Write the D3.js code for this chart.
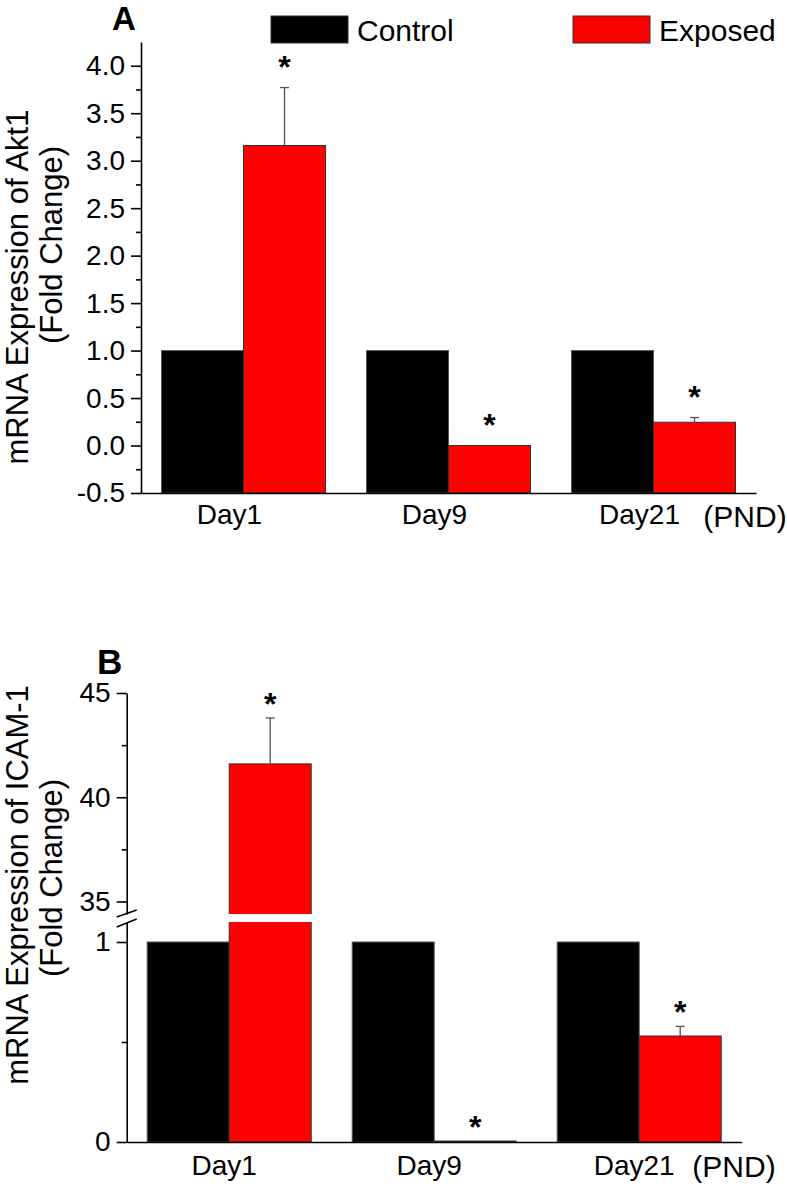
<!DOCTYPE html>
<html><head><meta charset="utf-8">
<script src="https://cdn.jsdelivr.net/npm/d3@7"></script>
<style>
body{margin:0;background:#fff}
svg{display:block}
text{font-family:"Liberation Sans",Arial,Helvetica,sans-serif;fill:#000}
</style>
</head><body>
<svg id="c" width="787" height="1187"></svg>
<script>
// ---------- data ----------
const categories = ["Day1", "Day9", "Day21"];
const seriesNames = ["Control", "Exposed"];
const seriesColors = ["#000000", "#ff0000"];

const akt1Control = [1.0, 1.0, 1.0];
const akt1Exposed = [3.16, 0.0, 0.245];
const akt1ExposedErr = [0.61, 0.0, 0.05];
const akt1Ticks = [-0.5, 0.0, 0.5, 1.0, 1.5, 2.0, 2.5, 3.0, 3.5, 4.0];
const akt1Minor = [-0.25, 0.25, 0.75, 1.25, 1.75, 2.25, 2.75, 3.25, 3.75];

const icamControl = [1.0, 1.0, 1.0];
const icamExposed = [41.6, 0.005, 0.53];
const icamExposedErr = [2.2, 0.0, 0.048];
const icamUpperTicks = [35, 40, 45];
const icamUpperMinor = [37.5, 42.5];
const icamLowerTicks = [0, 1];
const icamLowerMinor = [0.5];

const svg = d3.select("#c");
const FS_TICK = 28, FS_LAB = 28, FS_TITLE = 31;

function styleAxis(g){
  g.selectAll(".domain").attr("stroke","#000").attr("stroke-width",1.6);
  g.selectAll(".tick line").attr("stroke","#000").attr("stroke-width",1.6);
  g.selectAll(".tick text").attr("font-size",FS_TICK).attr("font-family","Liberation Sans, Arial, sans-serif").attr("fill","#000");
}

function drawBars(g, x0, x1, yFn, yBase, ctrl, expo){
  const rows = categories.map((c,i)=>({cat:c, vals:[ctrl[i], expo[i]]}));
  const grp = g.selectAll("g.grp").data(rows).join("g").attr("class","grp")
    .attr("transform", d=>`translate(${x0(d.cat)},0)`);
  grp.selectAll("rect").data(d=>d.vals.map((v,j)=>({v, s:seriesNames[j], j})))
    .join("rect")
    .attr("x", d=>x1(d.s))
    .attr("width", x1.bandwidth())
    .attr("y", d=>yFn(d.v))
    .attr("height", d=>Math.max(0, yBase - yFn(d.v)))
    .attr("fill", d=>seriesColors[d.j])
    .attr("stroke", d=> d.j===0 ? "#555" : "#333")
    .attr("stroke-width", 1);
}

function drawErr(g, x0, x1, yFn, expo, err, starOffset){
  categories.forEach((c,i)=>{
    const cx = x0(c) + x1("Exposed") + x1.bandwidth()/2;
    const yT = yFn(expo[i]);
    const yE = yFn(expo[i] + err[i]);
    if (err[i] > 0){
      g.append("line").attr("x1",cx).attr("x2",cx).attr("y1",yT).attr("y2",yE)
        .attr("stroke","#555").attr("stroke-width",1.3);
      g.append("line").attr("x1",cx-4.5).attr("x2",cx+4.5).attr("y1",yE).attr("y2",yE)
        .attr("stroke","#555").attr("stroke-width",1.3);
    }
    g.append("text").attr("x",cx).attr("y", yE - starOffset + 18)
      .attr("text-anchor","middle").attr("font-size",32).attr("font-weight","bold").text("*");
  });
}

function yTitle(g, cy1, cy2, line1){
  g.append("text").attr("transform",`translate(28,${cy1}) rotate(-90)`)
    .attr("text-anchor","middle").attr("font-size",FS_TITLE).text(line1);
  g.append("text").attr("transform",`translate(62,${cy2}) rotate(-90)`)
    .attr("text-anchor","middle").attr("font-size",FS_TITLE).text("(Fold Change)");
}

// ---------- Panel A ----------
{
  const axisX = 141, right = 756;
  const y = d3.scaleLinear().domain([-0.5, 4.25]).range([493, 42]);
  const x0 = d3.scaleBand().domain(categories).range([axisX, right]).paddingInner(0.2).paddingOuter(0.1);
  const x1 = d3.scaleBand().domain(seriesNames).range([0, x0.bandwidth()]);
  const g = svg.append("g");

  drawBars(g, x0, x1, y, y(-0.5), akt1Control, akt1Exposed);
  drawErr(g, x0, x1, y, akt1Exposed, akt1ExposedErr, 28);

  const ax = g.append("g").attr("transform",`translate(${axisX},0)`)
    .call(d3.axisLeft(y).tickValues(akt1Ticks).tickSize(10).tickSizeOuter(0).tickPadding(6).tickFormat(d=>d.toFixed(1)));
  styleAxis(ax);
  const axm = g.append("g").attr("transform",`translate(${axisX},0)`)
    .call(d3.axisLeft(y).tickValues(akt1Minor).tickSize(5).tickFormat(""));
  styleAxis(axm); axm.select(".domain").remove();

  const xa = g.append("g").attr("transform",`translate(0,${y(-0.5)})`)
    .call(d3.axisBottom(x0).tickSize(0).tickSizeOuter(0).tickPadding(10));
  styleAxis(xa);
  xa.selectAll(".tick text").attr("font-size",FS_LAB).attr("dx",-14).attr("dy","0").attr("y",31);
  g.append("text").attr("x",745).attr("y",y(-0.5)+34).attr("text-anchor","middle").attr("font-size",30).text("(PND)");

  yTitle(g, 287, 245, "mRNA Expression of Akt1");

  g.append("text").attr("x",112).attr("y",30).attr("font-size",33).attr("font-weight","bold").text("A");

  // legend
  const legX = [271, 573];
  seriesNames.forEach((s,j)=>{
    g.append("rect").attr("x",legX[j]).attr("y",16).attr("width",77).attr("height",27)
      .attr("fill",seriesColors[j]).attr("stroke","#333").attr("stroke-width",1);
    g.append("text").attr("x",legX[j]+86).attr("y",41).attr("font-size",30).text(s);
  });
}

// ---------- Panel B ----------
{
  const axisX = 126.7, right = 741.7;
  const yUp = d3.scaleLinear().domain([34.4, 45]).range([914, 693]);
  const yLow = d3.scaleLinear().domain([0, 1.1]).range([1142, 922]);
  const yB = v => v > 1.1 ? yUp(v) : yLow(v);
  const x0 = d3.scaleBand().domain(categories).range([axisX, right]).paddingInner(0.2).paddingOuter(0.1);
  const x1 = d3.scaleBand().domain(seriesNames).range([0, x0.bandwidth()]);
  const g = svg.append("g");

  drawBars(g, x0, x1, yB, yLow(0), icamControl, icamExposed);
  // break gap across the bars
  g.append("rect").attr("x", axisX+2).attr("width", right-axisX-2)
    .attr("y", yUp.range()[0]).attr("height", yLow.range()[1]-yUp.range()[0]).attr("fill","#fff");
  drawErr(g, x0, x1, yB, icamExposed, icamExposedErr, 21);

  const fmt = d=>String(d);
  const au = g.append("g").attr("transform",`translate(${axisX},0)`)
    .call(d3.axisLeft(yUp).tickValues(icamUpperTicks).tickSize(10).tickSizeOuter(0).tickPadding(6).tickFormat(fmt));
  styleAxis(au);
  const aum = g.append("g").attr("transform",`translate(${axisX},0)`)
    .call(d3.axisLeft(yUp).tickValues(icamUpperMinor).tickSize(5).tickFormat(""));
  styleAxis(aum); aum.select(".domain").remove();
  const al = g.append("g").attr("transform",`translate(${axisX},0)`)
    .call(d3.axisLeft(yLow).tickValues(icamLowerTicks).tickSize(10).tickSizeOuter(0).tickPadding(6).tickFormat(fmt));
  styleAxis(al);
  const alm = g.append("g").attr("transform",`translate(${axisX},0)`)
    .call(d3.axisLeft(yLow).tickValues(icamLowerMinor).tickSize(5).tickFormat(""));
  styleAxis(alm); alm.select(".domain").remove();

  // break marks
  const bt = yUp.range()[0], bb = yLow.range()[1];
  [[bt+3, bt-4],[bb+5, bb-3]].forEach(([ya,yb])=>{
    g.append("line").attr("x1",axisX-10).attr("x2",axisX+10).attr("y1",ya).attr("y2",yb)
      .attr("stroke","#000").attr("stroke-width",1.6);
  });

  const xa = g.append("g").attr("transform",`translate(0,${yLow(0)})`)
    .call(d3.axisBottom(x0).tickSize(0).tickSizeOuter(0).tickPadding(10));
  styleAxis(xa);
  xa.selectAll(".tick text").attr("font-size",FS_LAB).attr("dx",-5).attr("dy","0").attr("y",33);
  g.append("text").attr("x",734).attr("y",yLow(0)+35).attr("text-anchor","middle").attr("font-size",30).text("(PND)");

  yTitle(g, 885, 878, "mRNA Expression of ICAM-1");

  g.append("text").attr("x",97).attr("y",674).attr("font-size",35).attr("font-weight","bold").text("B");
}
</script>
</body></html>
